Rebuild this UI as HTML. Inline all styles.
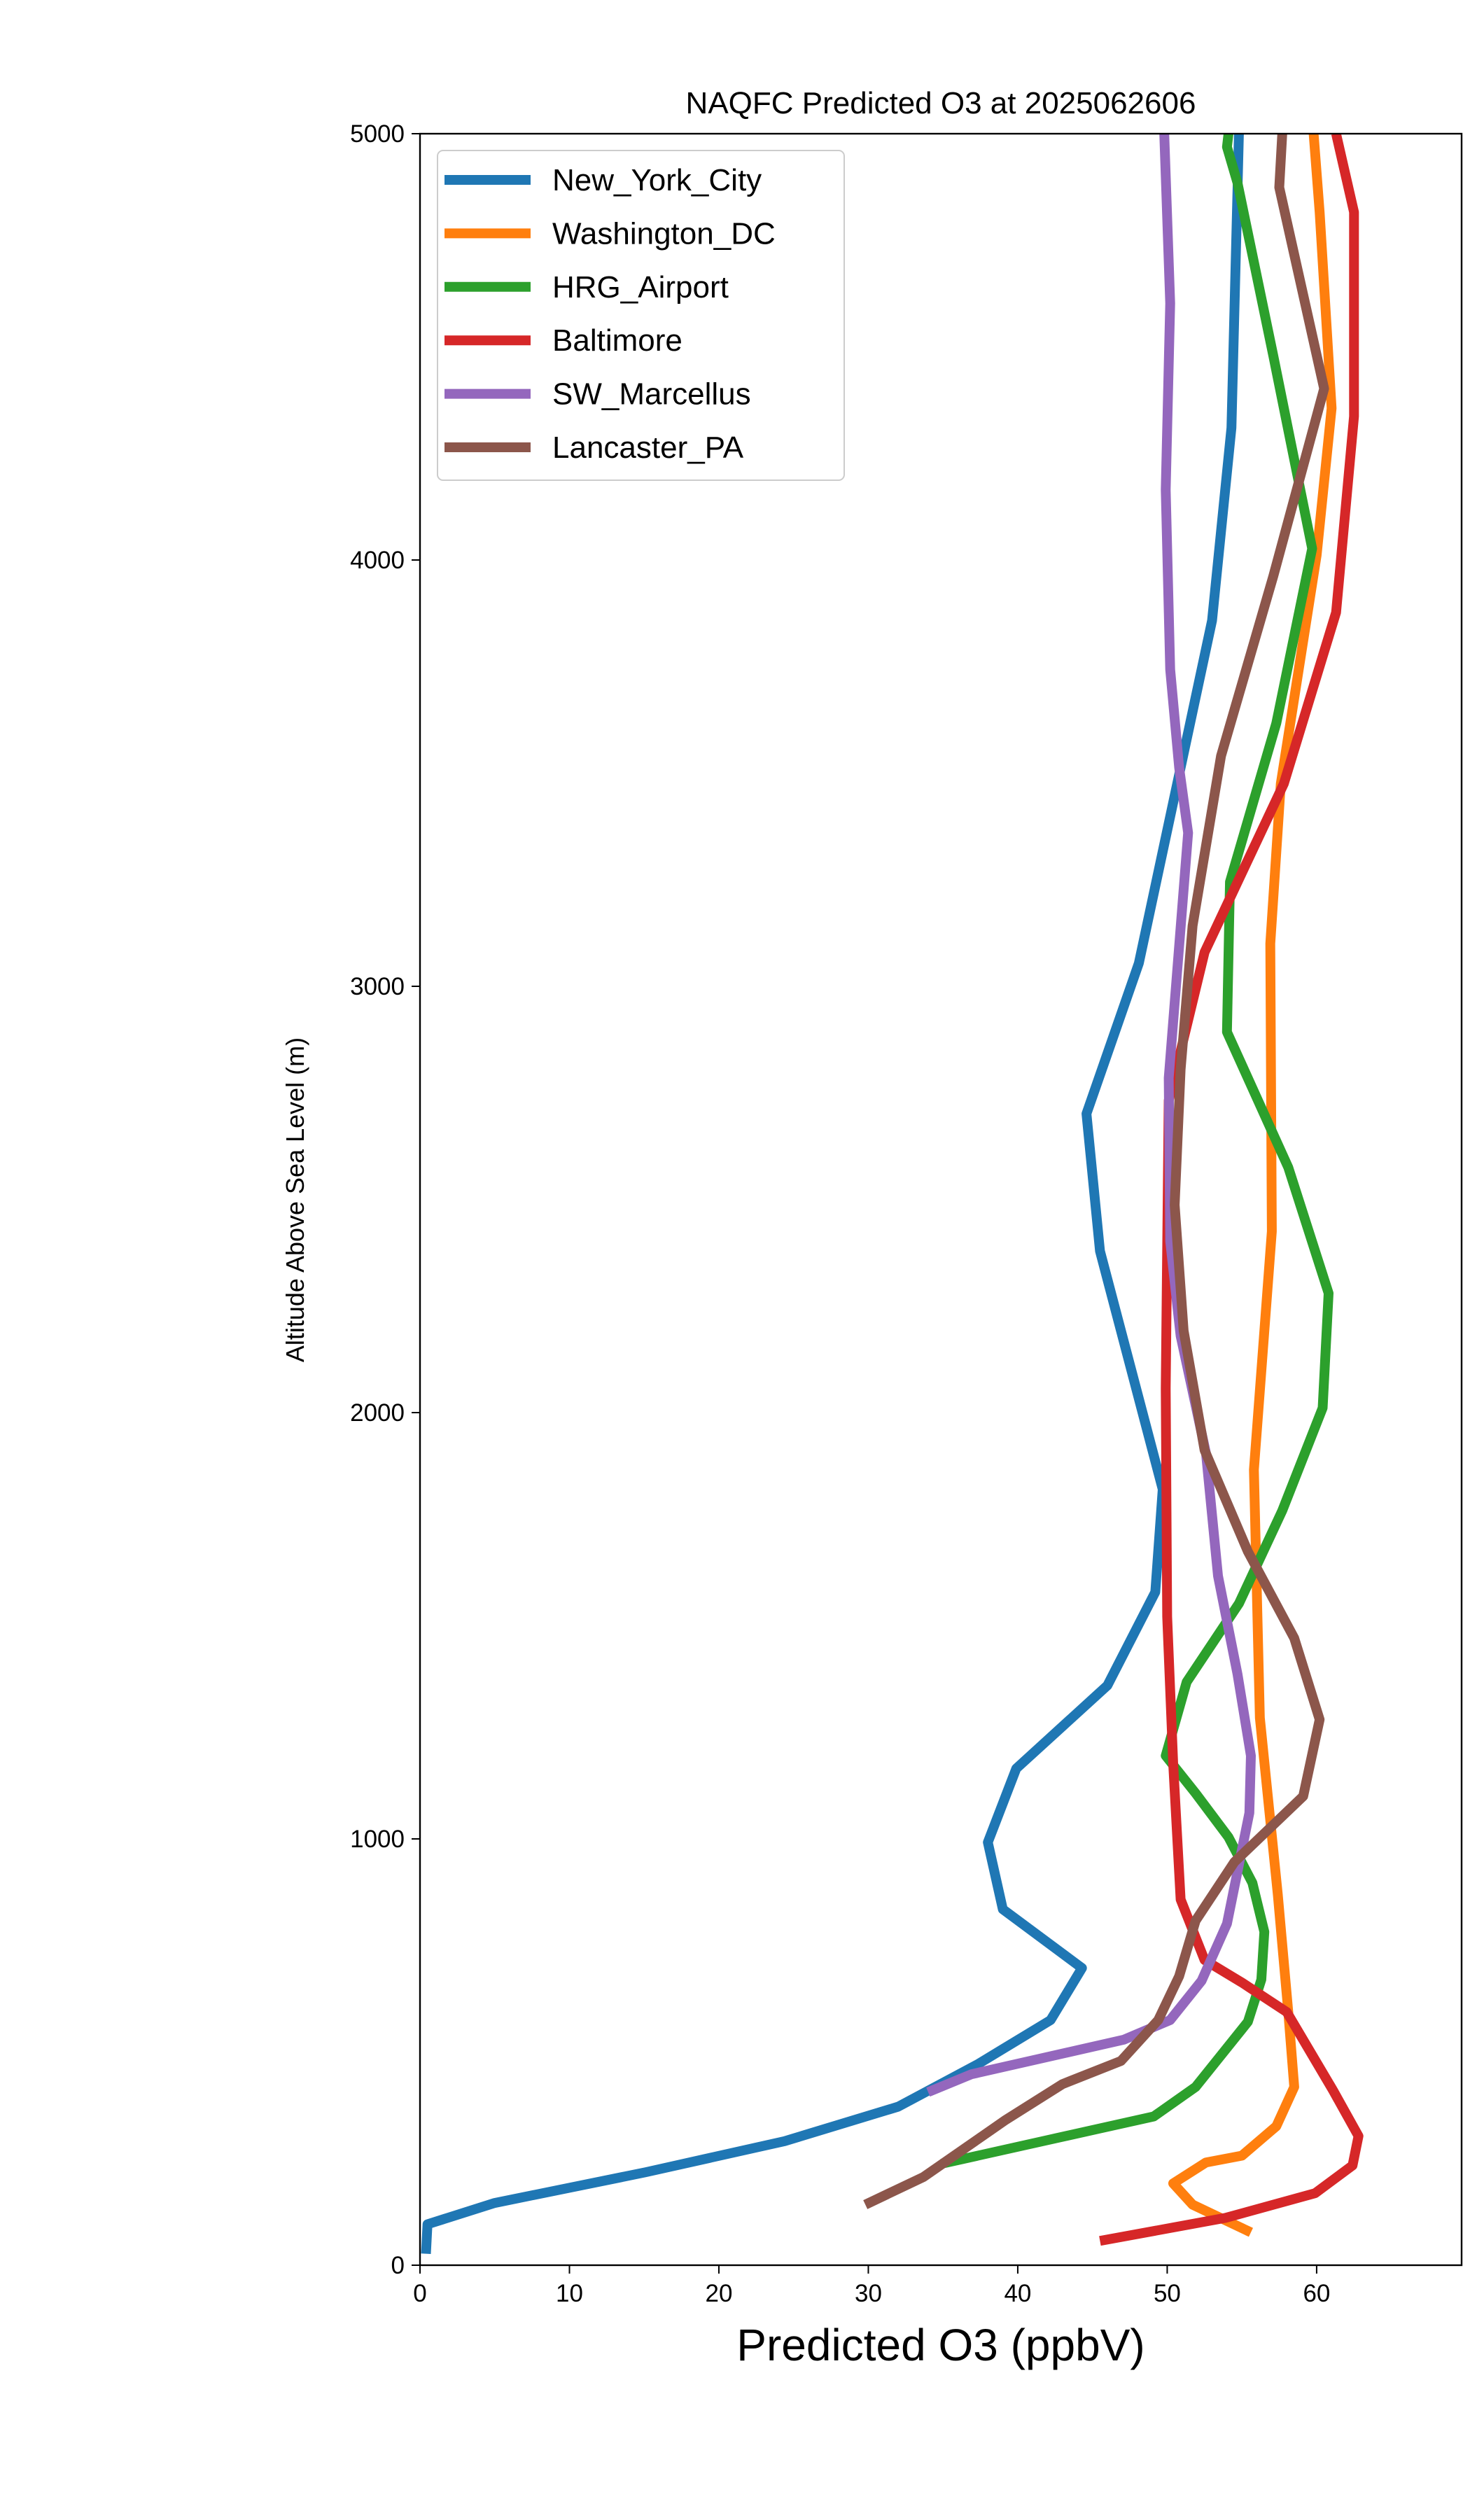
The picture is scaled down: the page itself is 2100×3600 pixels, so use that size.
<!DOCTYPE html>
<html><head><meta charset="utf-8"><style>
html,body{margin:0;padding:0;background:#fff}
svg{display:block;font-family:"Liberation Sans","DejaVu Sans",sans-serif}
</style></head><body>
<svg id="chart" width="2100" height="3600" viewBox="0 0 2100 3600">
<rect x="0" y="0" width="2100" height="3600" fill="#fff"/>
<text x="1344" y="162" font-size="44" text-anchor="middle">NAQFC Predicted O3 at 2025062606</text>
<text x="1344" y="3372" font-size="64" text-anchor="middle">Predicted O3 (ppbV)</text>
<text x="0" y="0" font-size="36" text-anchor="middle" transform="translate(434,1714) rotate(-90)">Altitude Above Sea Level (m)</text>
<g id="plot"></g>
<g id="axes"></g>
<g id="legend"></g>
</svg>
<script>
const seriesNames = ["New_York_City","Washington_DC","HRG_Airport","Baltimore","SW_Marcellus","Lancaster_PA"];
const seriesColors = ["#1f77b4","#ff7f0e","#2ca02c","#d62728","#9467bd","#8c564b"];
const nycO3 = [0.4,0.5,5,15.1,24.4,32,37.3,42.2,44.3,39,38,39.9,46,49.2,49.7,45.5,44.6,48.1,53,54.3,54.8];
const nycAlt = [27,96,146,218,291,372,471,575,697,835,992,1165,1360,1579,1820,2379,2701,3054,3858,4310,5000];
const dcO3 = [55.6,51.7,50.4,52.6,55,57.3,58.5,58.1,57.4,56.2,55.8,57,56.9,57.6,60,61,60.2,59.8];
const dcAlt = [77,142,192,241,257,326,418,594,870,1284,1866,2425,3100,3475,4011,4356,4816,5000];
const hrgO3 = [34.9,42.2,49.1,51.9,55.4,56.3,56.5,55.7,54.1,51.9,49.9,51.3,54.8,57.7,60.4,60.8,58.1,54,54.2,57.3,59.7,57.1,54.7,54,54.1];
const hrgAlt = [238,295,349,418,571,670,782,897,1004,1107,1195,1368,1552,1770,2011,2280,2575,2893,3245,3617,4027,4479,4885,4969,5000];
const balO3 = [45.5,53.9,59.9,62.4,62.8,61.1,58,55,52.5,50.9,50.4,50,49.9,50.1,52.5,57.8,61.3,62.5,62.5,61.3];
const balAlt = [57,111,169,234,303,410,594,663,716,858,1176,1521,2057,2732,3080,3475,3877,4337,4816,5000];
const swmO3 = [34,36.9,47.1,50.2,52.3,54,55.5,55.6,54.7,53.4,52.6,50.9,50.2,50.1,51.4,50.8,50.2,49.9,50.2,49.8];
const swmAlt = [406,448,529,575,667,801,1061,1195,1387,1617,1904,2180,2402,2785,3360,3513,3743,4165,4602,5000];
const lanO3 = [29.8,33.7,39.2,43,46.9,49.4,50.8,51.9,54.5,59.1,60.2,58.5,55.4,52.5,51.1,50.5,50.9,51.7,53.6,57.1,60.5,57.5,57.7];
const lanAlt = [142,207,341,425,479,575,678,808,946,1100,1280,1471,1674,1912,2192,2487,2805,3142,3540,3962,4402,4874,5000];
const xTicks = [0,10,20,30,40,50,60];
const yTicks = [0,1000,2000,3000,4000,5000];

const NS="http://www.w3.org/2000/svg";
const L=600,R=2088,T=191,B=3236,XMAX=69.7,YMAX=5000;
const xs=v=>L+(v/XMAX)*(R-L);
const ys=v=>B-(v/YMAX)*(B-T);
const plot=document.getElementById('plot'),axes=document.getElementById('axes'),legend=document.getElementById('legend');
function mk(tag,attrs,parent){const e=document.createElementNS(NS,tag);for(const k in attrs)e.setAttribute(k,attrs[k]);parent.appendChild(e);return e;}
const cp=mk('clipPath',{id:'clip'},plot);mk('rect',{x:L,y:T,width:R-L,height:B-T},cp);
const allX=[nycO3,dcO3,hrgO3,balO3,swmO3,lanO3],allY=[nycAlt,dcAlt,hrgAlt,balAlt,swmAlt,lanAlt];
allX.forEach((xa,i)=>{
  const pts=xa.map((v,j)=>xs(v).toFixed(1)+','+ys(allY[i][j]).toFixed(1)).join(' ');
  const p=mk('polyline',{points:pts,fill:'none',stroke:seriesColors[i],'stroke-width':14,'stroke-linejoin':'round','clip-path':'url(#clip)'},plot);
  
  
});
const frame=mk('rect',{x:L,y:T,width:R-L,height:B-T,fill:'none',stroke:'#000','stroke-width':2.4},axes);


xTicks.forEach(t=>{
  const x=xs(t);
  mk('line',{x1:x,y1:B,x2:x,y2:B+12,stroke:'#000','stroke-width':2},axes);
  const tx=mk('text',{x:x,y:B+52,'font-size':35,'text-anchor':'middle'},axes);tx.textContent=t;
  
  
});
yTicks.forEach(t=>{
  const y=ys(t);
  mk('line',{x1:L-12,y1:y,x2:L,y2:y,stroke:'#000','stroke-width':2},axes);
  const tx=mk('text',{x:L-22,y:y+12,'font-size':35,'text-anchor':'end'},axes);tx.textContent=t;
  
  
});
const lb=mk('rect',{x:625,y:215,width:581,height:471,rx:8,fill:'#fff','fill-opacity':0.8,stroke:'#ccc','stroke-width':2},legend);


seriesNames.forEach((n,i)=>{
  const y=257+i*76.4;
  const g=mk('g',{},legend);
  
  
  mk('line',{x1:635,y1:y,x2:758,y2:y,stroke:seriesColors[i],'stroke-width':14},g);
  const t=mk('text',{x:789,y:y+15,'font-size':44},g);t.textContent=n;
});
</script>
</body></html>
